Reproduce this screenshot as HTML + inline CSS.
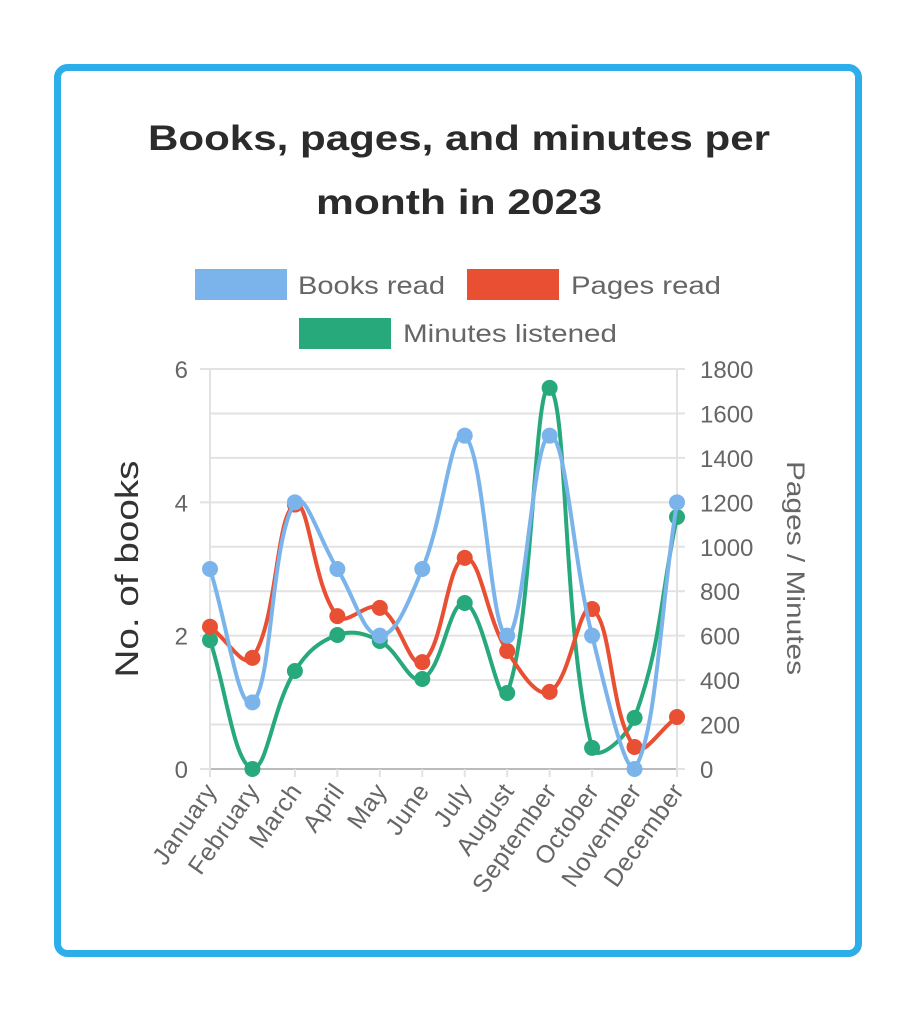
<!DOCTYPE html>
<html><head><meta charset="utf-8"><style>
body{margin:0;background:#fff;width:919px;height:1023px;overflow:hidden}
svg{position:absolute;left:0;top:0}
text{font-family:"Liberation Sans",sans-serif}
</style></head><body>
<svg id="s" width="919" height="1023" viewBox="0 0 919 1023">
<rect x="57.5" y="67.5" width="801" height="886" rx="10" fill="#fff" stroke="#2caeea" stroke-width="7"/>
<text x="459" y="150" text-anchor="middle" font-size="35" font-weight="bold" fill="#2b2b2b" textLength="622" lengthAdjust="spacingAndGlyphs">Books, pages, and minutes per</text>
<text x="459" y="214" text-anchor="middle" font-size="35" font-weight="bold" fill="#2b2b2b" textLength="286" lengthAdjust="spacingAndGlyphs">month in 2023</text>
<rect x="195" y="269" width="92" height="31" fill="#7ab4ea"/>
<text x="298" y="294" font-size="25" fill="#666" textLength="147" lengthAdjust="spacingAndGlyphs">Books read</text>
<rect x="467" y="269" width="92" height="31" fill="#e84f33"/>
<text x="571" y="294" font-size="25" fill="#666" textLength="150" lengthAdjust="spacingAndGlyphs">Pages read</text>
<rect x="299" y="318" width="92" height="31" fill="#27a97c"/>
<text x="403" y="342" font-size="25" fill="#666" textLength="214" lengthAdjust="spacingAndGlyphs">Minutes listened</text>
<g id="grid" stroke="#e2e2e2" stroke-width="2"></g>
<g id="ticks" fill="#666" font-size="24"></g>
<text transform="translate(138,569) rotate(-90)" text-anchor="middle" font-size="32" fill="#333" textLength="217" lengthAdjust="spacingAndGlyphs">No. of books</text>
<text transform="translate(787,568) rotate(90)" text-anchor="middle" font-size="25" fill="#666" textLength="214" lengthAdjust="spacingAndGlyphs">Pages / Minutes</text>
<g id="lines"></g>
</svg>
<script>
const NS="http://www.w3.org/2000/svg";
function el(p,t,a,txt){const e=document.createElementNS(NS,t);for(const k in a)e.setAttribute(k,a[k]);if(txt!=null)e.textContent=txt;document.getElementById(p).appendChild(e);return e;}
const x0=210,x1=677,yTop=369,yBot=769;
const X=i=>x0+i*(x1-x0)/11;
for(let k=0;k<=9;k++){const y=yBot-k*(yBot-yTop)/9;
 el("grid","line",{x1:x0,x2:x1,y1:y,y2:y,stroke:k==0?"#bbb":"#e2e2e2"});
 el("grid","line",{x1:x1,x2:x1+8,y1:y,y2:y});
 el("ticks","text",{x:x1+23,y:y+9},String(k*200));}
for(let k=0;k<=3;k++){const y=yBot-k*(yBot-yTop)/3;
 el("grid","line",{x1:x0-10,x2:x0,y1:y,y2:y});
 el("ticks","text",{x:x0-22,y:y+9,"text-anchor":"end"},String(k*2));}
el("grid","line",{x1:x0,x2:x0,y1:yTop,y2:yBot+8});
el("grid","line",{x1:x1,x2:x1,y1:yTop,y2:yBot+8});
for(let i=0;i<12;i++)el("grid","line",{x1:X(i),x2:X(i),y1:yBot,y2:yBot+8});
const months=["January","February","March","April","May","June","July","August","September","October","November","December"];
months.forEach((m,i)=>el("ticks","text",{transform:`translate(${X(i)+8},${yBot+22}) rotate(-55)`,"text-anchor":"end","font-size":"25","letter-spacing":"0.5"},m));
const books=[3,1,4,3,2,3,5,2,5,2,0,4];
const pages=[640,500,1190,688,725,481,950,531,347,720,99,234];
const mins=[580,0,441,603,576,405,747,342,1715,95,230,1134];
function path(pts,col){
 const t=0.4;let d=`M${pts[0][0]},${pts[0][1]}`;const cps=[];
 for(let i=0;i<pts.length;i++){const p=pts[i-1]||pts[i],c=pts[i],n=pts[i+1]||pts[i];
  const d01=Math.hypot(c[0]-p[0],c[1]-p[1]),d12=Math.hypot(n[0]-c[0],n[1]-c[1]);
  let fa=d01/(d01+d12)||0,fb=d12/(d01+d12)||0;fa*=t;fb*=t;
  let py=Math.min(yBot,Math.max(yTop,c[1]-fa*(n[1]-p[1]))),ny=Math.min(yBot,Math.max(yTop,c[1]+fb*(n[1]-p[1])));
  cps.push([[c[0]-fa*(n[0]-p[0]),py],[c[0]+fb*(n[0]-p[0]),ny]]);}
 for(let i=1;i<pts.length;i++){const a=cps[i-1][1],b=cps[i][0];d+=` C${a[0]},${a[1]} ${b[0]},${b[1]} ${pts[i][0]},${pts[i][1]}`;}
 el("lines","path",{d,fill:"none",stroke:col,"stroke-width":4});
 pts.forEach(p=>el("lines","circle",{cx:p[0],cy:p[1],r:8,fill:col}));}
path(mins.map((v,i)=>[X(i),yBot-v*(yBot-yTop)/1800]),"#27a97c");
path(pages.map((v,i)=>[X(i),yBot-v*(yBot-yTop)/1800]),"#e84f33");
path(books.map((v,i)=>[X(i),yBot-v*(yBot-yTop)/6]),"#7ab4ea");
</script>
</body></html>
